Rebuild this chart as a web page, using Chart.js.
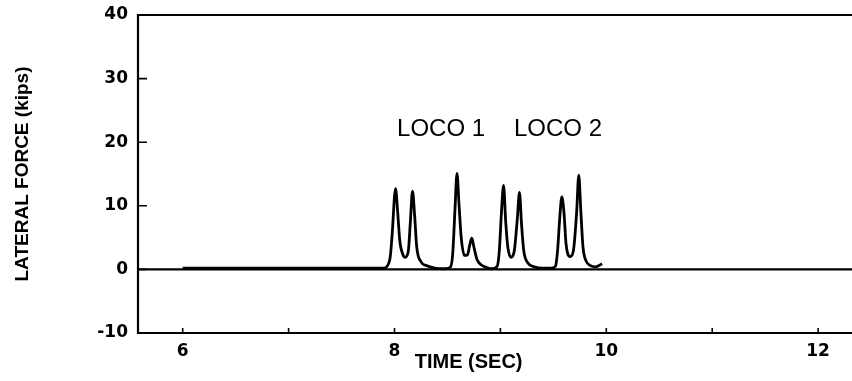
<!DOCTYPE html>
<html>
<head>
<meta charset="utf-8">
<script src="https://cdn.jsdelivr.net/npm/chart.js@4.4.1/dist/chart.umd.min.js"></script>
<style>
  html, body { margin: 0; padding: 0; background: #fff; }
  #wrap { width: 852px; height: 381px; position: relative; }
</style>
</head>
<body>
<div id="wrap"><canvas id="c" width="852" height="381"></canvas></div>
<script>
// Lateral force record, wheel passes of two locomotives
const timeSec = [
  6.00, 7.00, 7.90, 7.93, 7.96, 7.98, 8.00, 8.01, 8.03, 8.05, 8.08, 8.10, 8.13, 8.15, 8.17, 8.19,
  8.21, 8.25, 8.30, 8.38, 8.48, 8.53, 8.55, 8.57, 8.59, 8.61, 8.63, 8.66, 8.69, 8.71, 8.73, 8.75,
  8.78, 8.82, 8.87, 8.92, 8.97, 8.99, 9.01, 9.03, 9.05, 9.07, 9.10, 9.13, 9.16, 9.18, 9.20, 9.22,
  9.26, 9.32, 9.40, 9.48, 9.52, 9.54, 9.56, 9.58, 9.60, 9.62, 9.66, 9.69, 9.72, 9.74, 9.76, 9.78,
  9.81, 9.85, 9.90, 9.93, 9.96
];
const lateralKips = [
  0.2, 0.2, 0.2, 0.5, 2.0, 6.0, 11.5, 12.7, 9.0, 4.5, 2.3, 1.9, 2.8, 7.5, 12.3, 8.5,
  3.5, 1.2, 0.6, 0.2, 0.1, 0.4, 2.5, 9.0, 15.1, 10.0, 5.0, 2.2, 2.3, 3.8, 4.9, 3.5,
  1.5, 0.7, 0.3, 0.1, 0.5, 3.0, 9.0, 13.2, 7.5, 3.5, 1.9, 2.8, 8.0, 12.1, 7.0, 3.0,
  1.0, 0.4, 0.2, 0.2, 0.5, 3.0, 8.0, 11.4, 9.0, 4.0, 2.0, 3.0, 9.0, 14.8, 9.0, 3.5,
  1.3, 0.6, 0.4, 0.6, 0.9
];
const xTickValues = [6, 7, 8, 9, 10, 11, 12];
const xTickLabels = ['6', '', '8', '', '10', '', '12'];
const yTickValues = [-10, 0, 10, 20, 30, 40];
const locoLabels = [
  { text: 'LOCO 1', t: 8.024, v: 21.0 },
  { text: 'LOCO 2', t: 9.128, v: 21.0 }
];

const points = timeSec.map((t, i) => ({ x: t, y: lateralKips[i] }));

const frame = {
  id: 'frame',
  beforeDatasetsDraw(chart) {
    const { ctx, chartArea: a, scales: { y } } = chart;
    ctx.save();
    ctx.strokeStyle = '#000';
    // zero reference line
    ctx.lineWidth = 2.2;
    const y0 = y.getPixelForValue(0);
    ctx.beginPath();
    ctx.moveTo(a.left, y0);
    ctx.lineTo(a.right, y0);
    ctx.stroke();
    ctx.restore();
  },
  afterDraw(chart) {
    const { ctx, chartArea: a, scales: { x, y } } = chart;
    ctx.save();
    ctx.strokeStyle = '#000';
    ctx.lineWidth = 2.2;
    ctx.beginPath();
    ctx.moveTo(a.right, a.top);
    ctx.lineTo(a.left, a.top);
    ctx.lineTo(a.left, a.bottom);
    ctx.lineTo(a.right, a.bottom);
    ctx.stroke();
    // inward tick marks
    ctx.lineWidth = 1.6;
    ctx.beginPath();
    yTickValues.forEach(v => {
      const py = y.getPixelForValue(v);
      ctx.moveTo(a.left, py);
      ctx.lineTo(a.left + 9, py);
    });
    xTickValues.forEach(v => {
      const px = x.getPixelForValue(v);
      ctx.moveTo(px, a.bottom);
      ctx.lineTo(px, a.bottom - 5);
    });
    ctx.stroke();
    // locomotive labels
    ctx.fillStyle = '#000';
    ctx.font = '24px "Liberation Sans", Arial, sans-serif';
    ctx.textAlign = 'left';
    ctx.textBaseline = 'alphabetic';
    locoLabels.forEach(l => {
      ctx.fillText(l.text, x.getPixelForValue(l.t), y.getPixelForValue(l.v));
    });
    // x axis title
    ctx.font = 'bold 20px "Liberation Sans", Arial, sans-serif';
    ctx.textAlign = 'center';
    ctx.fillText('TIME (SEC)', x.getPixelForValue(8.7), 368);
    ctx.restore();
  }
};

new Chart(document.getElementById('c'), {
  type: 'line',
  data: {
    datasets: [{
      data: points,
      borderColor: '#000',
      borderWidth: 2.8,
      pointRadius: 0,
      fill: false,
      cubicInterpolationMode: 'monotone'
    }]
  },
  options: {
    responsive: false,
    animation: false,
    layout: { padding: { top: 15, right: 0, left: 0, bottom: 0 } },
    plugins: { legend: { display: false }, tooltip: { enabled: false } },
    scales: {
      x: {
        type: 'linear',
        min: 5.578,
        max: 12.32,
        border: { display: false },
        grid: { display: false, drawTicks: false },
        afterBuildTicks(scale) { scale.ticks = xTickValues.map(v => ({ value: v })); },
        afterFit(scale) { scale.height = 48; scale.paddingLeft = 0; scale.paddingRight = 0; },
        ticks: {
          autoSkip: false,
          maxRotation: 0,
          padding: 8,
          color: '#000',
          font: { family: '"DejaVu Sans", sans-serif', weight: 'bold', size: 17 },
          callback(value) {
            const i = xTickValues.indexOf(value);
            return i >= 0 ? xTickLabels[i] : '';
          }
        }
      },
      y: {
        min: -10,
        max: 40,
        border: { display: false },
        grid: { display: false, drawTicks: false },
        afterBuildTicks(scale) { scale.ticks = yTickValues.map(v => ({ value: v })); },
        afterFit(scale) { scale.width = 138; scale.paddingTop = 0; scale.paddingBottom = 0; },
        title: {
          display: true,
          text: 'LATERAL FORCE (kips)',
          color: '#000',
          padding: { top: 11, bottom: 0 },
          font: { family: '"Liberation Sans", Arial, sans-serif', weight: 'bold', size: 19 }
        },
        ticks: {
          autoSkip: false,
          padding: 10,
          color: '#000',
          font: { family: '"DejaVu Sans", sans-serif', weight: 'bold', size: 17 }
        }
      }
    }
  },
  plugins: [frame]
});
</script>
</body>
</html>
